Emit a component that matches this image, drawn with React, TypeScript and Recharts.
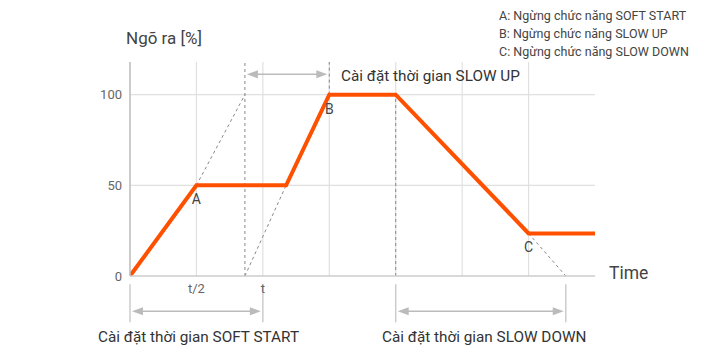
import React from "react";
import {
    LineChart,
    Line,
    XAxis,
    YAxis,
    ReferenceLine,
    ReferenceDot,
} from "recharts";

// main output curve (x in time units, y in %)
const outputCurve = [
    { x: 0, y: 0 },
    { x: 1, y: 50 },
    { x: 2.35, y: 50 },
    { x: 3, y: 100 },
    { x: 4, y: 100 },
    { x: 6, y: 23.5 },
    { x: 7, y: 23.5 },
];

// dashed extensions of the ramps
const dashedRamps = [
    [{ x: 1, y: 50 }, { x: 1.73, y: 100 }],
    [{ x: 1.73, y: 0 }, { x: 2.35, y: 50 }],
    [{ x: 6, y: 23.5 }, { x: 6.56, y: 0 }],
];

// dashed vertical markers
const dashedVerticals = [
    { x: 1.73, from: 0, to: 118 },
    { x: 3, from: 100, to: 118 },
    { x: 4, from: 0, to: 100 },
];

const gridX = [1, 2, 3, 4, 5, 6];
const gridY = [50, 100];
const yTicks = [0, 50, 100];
const xTicks = [1, 2];
const xTickLabels: Record<number, string> = { 1: "t/2", 2: "t" };

// stop points
const stopPoints = [
    { x: 1, y: 50, label: "A" },
    { x: 3, y: 100, label: "B" },
    { x: 6, y: 23.5, label: "C" },
];

// setting-time spans (arrows)
const spanArrows = [
    { from: 1.73, to: 3, y: 111.2 },
    { from: 0, to: 2, y: -19.5 },
    { from: 4, to: 6.56, y: -19.5 },
];
const belowGuides = [0, 2, 4, 6.56];

const legendLines = [
    "A: Ngừng chức năng SOFT START",
    "B: Ngừng chức năng SLOW UP",
    "C: Ngừng chức năng SLOW DOWN",
];

const FONT = "Roboto, 'Noto Sans', sans-serif";

function ArrowShape(props: any) {
    const { x1, y1, x2, y2 } = props;
    const a = Math.min(x1, x2) + 2;
    const b = Math.max(x1, x2) - 2;
    const y = y1;
    return (
        <g>
            <line x1={a + 8} y1={y} x2={b - 8} y2={y2} stroke="#bbb" strokeWidth={1.5} />
            <polygon points={`${a},${y} ${a + 11},${y - 4} ${a + 11},${y + 4}`} fill="#bbb" />
            <polygon points={`${b},${y} ${b - 11},${y - 4} ${b - 11},${y + 4}`} fill="#bbb" />
        </g>
    );
}

export default function App() {
    return (
        <div
            style={{
                position: "absolute",
                left: 0,
                top: 0,
                width: 720,
                height: 360,
                fontFamily: FONT,
                background: "#fff",
            }}
        >
            <LineChart
                width={720}
                height={360}
                margin={{ top: 62, right: 125, bottom: 0, left: 0 }}
            >
                <XAxis
                    type="number"
                    dataKey="x"
                    domain={[0, 7]}
                    ticks={xTicks}
                    tickFormatter={(v) => xTickLabels[v] ?? ""}
                    tickLine={false}
                    axisLine={{ stroke: "#ccc", strokeWidth: 1.5 }}
                    tick={{ fontSize: 13, fill: "#666", fontFamily: FONT }}
                    height={84}
                    allowDataOverflow
                />
                <YAxis
                    type="number"
                    domain={[0, 118]}
                    ticks={yTicks}
                    tickLine={false}
                    axisLine={{ stroke: "#bbb", strokeWidth: 1.5 }}
                    tick={{ fontSize: 13, fill: "#666", fontFamily: FONT }}
                    width={130}
                    allowDataOverflow
                />

                {gridX.map((x) => (
                    <ReferenceLine key={"gx" + x} x={x} stroke="#e0e0e0" strokeWidth={1.2} />
                ))}
                {gridY.map((y) => (
                    <ReferenceLine key={"gy" + y} y={y} stroke="#e0e0e0" strokeWidth={1.2} />
                ))}

                {dashedVerticals.map((d, i) => (
                    <ReferenceLine
                        key={"dv" + i}
                        segment={[
                            { x: d.x, y: d.from },
                            { x: d.x, y: d.to },
                        ]}
                        stroke="#888"
                        strokeDasharray="3 3"
                        ifOverflow="visible"
                    />
                ))}
                {dashedRamps.map((seg, i) => (
                    <ReferenceLine
                        key={"dr" + i}
                        segment={seg}
                        stroke="#888"
                        strokeDasharray="3 3"
                        ifOverflow="visible"
                    />
                ))}

                {belowGuides.map((x) => (
                    <ReferenceLine
                        key={"bg" + x}
                        segment={[
                            { x, y: -4.5 },
                            { x, y: -25.5 },
                        ]}
                        stroke="#ccc"
                        strokeWidth={1.5}
                        ifOverflow="visible"
                    />
                ))}
                {spanArrows.map((s, i) => (
                    <ReferenceLine
                        key={"sa" + i}
                        segment={[
                            { x: s.from, y: s.y },
                            { x: s.to, y: s.y },
                        ]}
                        ifOverflow="visible"
                        shape={ArrowShape}
                    />
                ))}

                <Line
                    data={outputCurve}
                    dataKey="y"
                    type="linear"
                    stroke="#ff5000"
                    strokeWidth={4}
                    dot={false}
                    isAnimationActive={false}
                />

                {stopPoints.map((p) => (
                    <ReferenceDot
                        key={p.label}
                        x={p.x}
                        y={p.y}
                        r={0}
                        fill="none"
                        stroke="none"
                        ifOverflow="visible"
                        label={{
                            value: p.label,
                            position: "bottom",
                            offset: 9,
                            fontSize: 14,
                            fill: "#444",
                            fontFamily: FONT,
                        }}
                    />
                ))}
            </LineChart>

            <svg
                width={720}
                height={360}
                style={{ position: "absolute", left: 0, top: 0, pointerEvents: "none" }}
                fontFamily={FONT}
            >
                <text x={126} y={43.5} fontSize={17} fill="#444">
                    Ngõ ra [%]
                </text>
                {legendLines.map((t, i) => (
                    <text key={t} x={499} y={19.5 + i * 18} fontSize={12.5} fill="#444">
                        {t}
                    </text>
                ))}
                <text x={341} y={80.5} fontSize={15.3} fill="#333">
                    Cài đặt thời gian SLOW UP
                </text>
                <text x={609} y={279} fontSize={17.5} fill="#444">
                    Time
                </text>
                <text x={98} y={342} fontSize={15.3} fill="#333">
                    Cài đặt thời gian SOFT START
                </text>
                <text x={382} y={342} fontSize={15.3} fill="#333">
                    Cài đặt thời gian SLOW DOWN
                </text>
            </svg>
        </div>
    );
}
